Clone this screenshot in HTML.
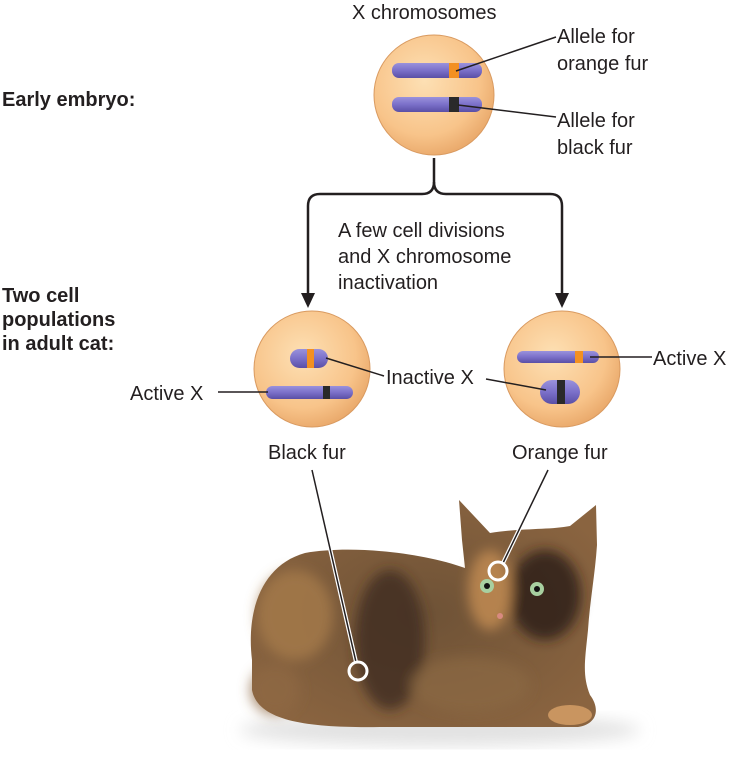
<!DOCTYPE html>
<html><head><meta charset="utf-8"><style>
body{margin:0;background:#fff}
svg{display:block}
text{font-family:"Liberation Sans",sans-serif;fill:#231f20}
</style></head><body>
<svg width="740" height="759" viewBox="0 0 740 759" xmlns="http://www.w3.org/2000/svg">
<defs>
<radialGradient id="cell" cx="0.42" cy="0.38" r="0.65">
<stop offset="0" stop-color="#fde0b4"/><stop offset="0.7" stop-color="#f8c48a"/><stop offset="1" stop-color="#e9a86a"/>
</radialGradient>
<linearGradient id="chr" x1="0" y1="0" x2="0" y2="1">
<stop offset="0" stop-color="#9a92dc"/><stop offset="0.5" stop-color="#7b70c9"/><stop offset="1" stop-color="#5a4fa6"/>
</linearGradient>
<radialGradient id="catg" cx="0.5" cy="0.5" r="0.6">
<stop offset="0" stop-color="#6e5236"/><stop offset="1" stop-color="#8a6440"/>
</radialGradient>
<filter id="blur"><feGaussianBlur stdDeviation="8"/></filter>
<filter id="soft"><feGaussianBlur stdDeviation="6"/></filter>
</defs>

<text x="352" y="19" font-size="20">X chromosomes</text>
<text x="2" y="106" font-size="20" font-weight="bold">Early embryo:</text>
<text x="2" y="302" font-size="20" font-weight="bold">Two cell</text>
<text x="2" y="326" font-size="20" font-weight="bold">populations</text>
<text x="2" y="350" font-size="20" font-weight="bold">in adult cat:</text>

<!-- top cell -->
<circle cx="434" cy="95" r="60" fill="url(#cell)" stroke="#d99a60" stroke-width="1"/>
<rect x="392" y="63" width="90" height="15" rx="7" fill="url(#chr)"/>
<rect x="449" y="63" width="10" height="15" fill="#f39021"/>
<rect x="392" y="97" width="90" height="15" rx="7" fill="url(#chr)"/>
<rect x="449" y="97" width="10" height="15" fill="#2a2a2a"/>
<line x1="456" y1="71" x2="556" y2="37" stroke="#231f20" stroke-width="1.5"/>
<line x1="458" y1="105" x2="556" y2="117" stroke="#231f20" stroke-width="1.5"/>
<text x="557" y="43" font-size="20">Allele for</text>
<text x="557" y="70" font-size="20">orange fur</text>
<text x="557" y="127" font-size="20">Allele for</text>
<text x="557" y="154" font-size="20">black fur</text>

<!-- brace and arrows -->
<path d="M434,158 L434,182 Q434,194 422,194 L320,194 Q308,194 308,206 L308,296" fill="none" stroke="#231f20" stroke-width="2.5"/>
<path d="M434,182 Q434,194 446,194 L550,194 Q562,194 562,206 L562,296" fill="none" stroke="#231f20" stroke-width="2.5"/>
<polygon points="301,293 315,293 308,308" fill="#231f20"/>
<polygon points="555,293 569,293 562,308" fill="#231f20"/>
<text x="338" y="237" font-size="20">A few cell divisions</text>
<text x="338" y="263" font-size="20">and X chromosome</text>
<text x="338" y="289" font-size="20">inactivation</text>

<!-- left cell -->
<circle cx="312" cy="369" r="58" fill="url(#cell)" stroke="#d99a60" stroke-width="1"/>
<rect x="290" y="349" width="38" height="19" rx="9.5" fill="url(#chr)"/>
<rect x="307" y="349" width="7" height="19" fill="#f39021"/>
<rect x="266" y="386" width="87" height="13" rx="6.5" fill="url(#chr)"/>
<rect x="323" y="386" width="7" height="13" fill="#2a2a2a"/>
<line x1="326" y1="358" x2="384" y2="376" stroke="#231f20" stroke-width="1.5"/>
<line x1="218" y1="392" x2="268" y2="392" stroke="#231f20" stroke-width="1.5"/>
<text x="130" y="400" font-size="20">Active X</text>
<text x="386" y="384" font-size="20">Inactive X</text>
<text x="268" y="459" font-size="20">Black fur</text>

<!-- right cell -->
<circle cx="562" cy="369" r="58" fill="url(#cell)" stroke="#d99a60" stroke-width="1"/>
<rect x="517" y="351" width="82" height="12" rx="6" fill="url(#chr)"/>
<rect x="575" y="351" width="8" height="12" fill="#f39021"/>
<rect x="540" y="380" width="40" height="24" rx="12" fill="url(#chr)"/>
<rect x="557" y="380" width="8" height="24" fill="#2a2a2a"/>
<line x1="486" y1="379" x2="546" y2="390" stroke="#231f20" stroke-width="1.5"/>
<line x1="590" y1="357" x2="652" y2="357" stroke="#231f20" stroke-width="1.5"/>
<text x="653" y="365" font-size="20">Active X</text>
<text x="512" y="459" font-size="20">Orange fur</text>

<!-- cat -->
<ellipse cx="440" cy="730" rx="200" ry="16" fill="#e2e2e2" filter="url(#blur)"/>
<path d="M252,660 C246,610 262,565 305,553 C350,545 420,552 465,568 L462,540 L459,500 L490,533 C520,528 550,530 570,526 L596,505 L597,545 C595,575 590,600 588,630 C585,660 582,675 590,695 C600,708 598,724 578,727 L380,727 C310,728 258,722 252,690 Z" fill="url(#catg)"/>
<g filter="url(#soft)">
<ellipse cx="295" cy="615" rx="38" ry="45" fill="#a57a4a" opacity="0.8"/>
<ellipse cx="390" cy="640" rx="35" ry="70" fill="#3e2c1e" opacity="0.8"/>
<ellipse cx="470" cy="685" rx="60" ry="28" fill="#8a6844" opacity="0.7"/>
<ellipse cx="545" cy="595" rx="36" ry="45" fill="#2e2218" opacity="0.85"/>
<ellipse cx="490" cy="590" rx="22" ry="40" fill="#c08a52" opacity="0.85"/>
<ellipse cx="275" cy="690" rx="25" ry="25" fill="#8f6a44" opacity="0.7"/>
</g>
<ellipse cx="570" cy="715" rx="22" ry="10" fill="#c99560"/>
<circle cx="487" cy="586" r="7" fill="#a8d0a0"/><circle cx="487" cy="586" r="3" fill="#111"/>
<circle cx="537" cy="589" r="7" fill="#a8d0a0"/><circle cx="537" cy="589" r="3" fill="#111"/>
<circle cx="500" cy="616" r="3" fill="#d88a80"/>

<!-- pointer lines -->
<line x1="312" y1="470" x2="356" y2="662" stroke="#fff" stroke-width="4"/>
<line x1="312" y1="470" x2="356" y2="662" stroke="#231f20" stroke-width="1.5"/>
<circle cx="358" cy="671" r="9" fill="none" stroke="#fff" stroke-width="3"/>
<line x1="548" y1="470" x2="503" y2="563" stroke="#fff" stroke-width="4"/>
<line x1="548" y1="470" x2="503" y2="563" stroke="#231f20" stroke-width="1.5"/>
<circle cx="498" cy="571" r="9" fill="none" stroke="#fff" stroke-width="3"/>
</svg>
</body></html>
